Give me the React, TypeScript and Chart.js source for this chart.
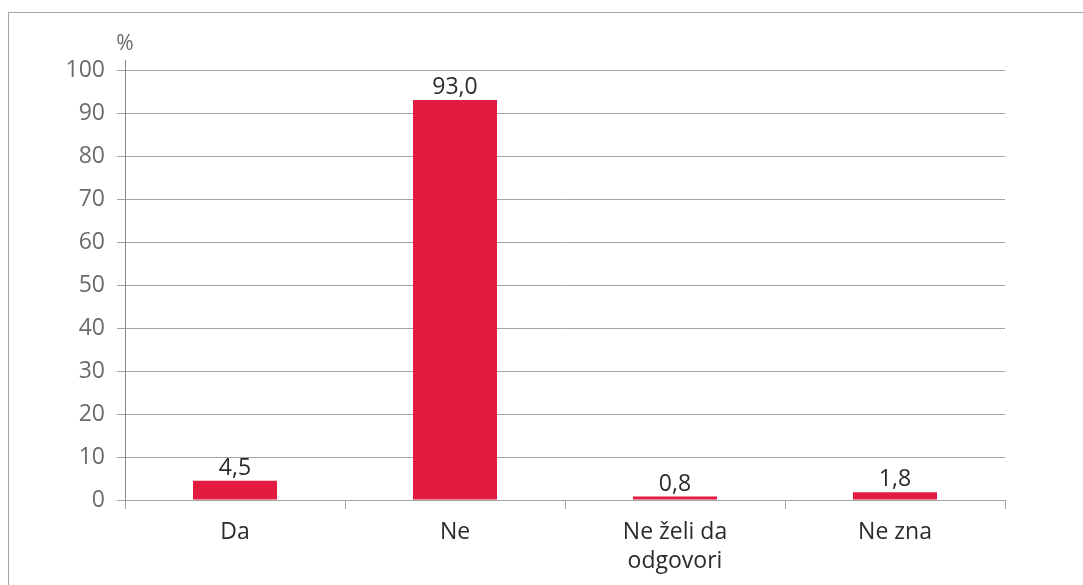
import React, { useEffect, useRef } from "react";
import { Chart, registerables } from "chart.js";

Chart.register(...registerables);

const categories: (string | string[])[] = ["Da", "Ne", ["Ne želi da", "odgovori"], "Ne zna"];
const values: number[] = [4.5, 93.0, 0.8, 1.8];
const yTicks: number[] = [0, 10, 20, 30, 40, 50, 60, 70, 80, 90, 100];
const unitLabel = "%";

const FONT = "'Open Sans', sans-serif";
const GRID = "#a3a3a3";

const fmt = (v: number) => v.toFixed(1).replace(".", ",");

const extrasPlugin = {
  id: "extras",
  afterDatasetsDraw(chart: any) {
    const ctx = chart.ctx;
    const meta = chart.getDatasetMeta(0);
    ctx.save();
    ctx.fillStyle = "#2b2b2b";
    ctx.font = `23px ${FONT}`;
    ctx.textAlign = "center";
    ctx.textBaseline = "alphabetic";
    meta.data.forEach((el: any, i: number) => {
      ctx.fillText(fmt(values[i]), el.x, el.y - 6);
    });
    const area = chart.chartArea;
    ctx.strokeStyle = "#8a8a8a";
    ctx.lineWidth = 1;
    ctx.beginPath();
    ctx.moveTo(area.left + 0.5, area.top - 10);
    ctx.lineTo(area.left + 0.5, area.top);
    ctx.stroke();
    ctx.fillStyle = "#6b6b6b";
    ctx.font = `21px ${FONT}`;
    ctx.textBaseline = "alphabetic";
    ctx.fillText(unitLabel, area.left, area.top - 20);
    ctx.restore();
  },
};

export default function App() {
  const ref = useRef<HTMLCanvasElement>(null);
  useEffect(() => {
    if (!ref.current) return;
    const chart = new Chart(ref.current, {
      type: "bar",
      data: {
        labels: categories,
        datasets: [
          {
            data: values,
            backgroundColor: "#E31B40",
            barPercentage: 0.382,
            categoryPercentage: 1,
          },
        ],
      },
      options: {
        animation: false,
        responsive: false,
        devicePixelRatio: 1,
        layout: { padding: { left: 0, top: 70, right: 78, bottom: 0 } },
        plugins: { legend: { display: false }, tooltip: { enabled: false } },
        scales: {
          x: {
            afterFit: (s: any) => {
              s.height = 85;
            },
            grid: {
              offset: true,
              drawOnChartArea: false,
              tickLength: 9,
              color: GRID,
            },
            border: { color: GRID },
            ticks: {
              color: "#2b2b2b",
              font: { family: FONT, size: 23, lineHeight: 1.25 },
              padding: 9,
              maxRotation: 0,
            },
          },
          y: {
            min: 0,
            max: 100,
            afterFit: (s: any) => {
              s.width = 125;
            },
            afterBuildTicks: (s: any) => {
              s.ticks = yTicks.map((v) => ({ value: v }));
            },
            grid: { color: GRID, tickLength: 8 },
            border: { color: "#8a8a8a" },
            ticks: {
              color: "#6b6b6b",
              font: { family: FONT, size: 23 },
              padding: 12,
            },
          },
        },
      },
      plugins: [extrasPlugin],
    });
    return () => chart.destroy();
  }, []);
  return (
    <div style={{ position: "fixed", inset: 0, overflow: "hidden", background: "#fff" }}>
      <div
        style={{
          position: "absolute",
          left: 8,
          top: 12,
          width: 1200,
          height: 700,
          border: "1px solid #a6a6a6",
        }}
      />
      <canvas
        ref={ref}
        width={1083}
        height={585}
        style={{ position: "absolute", left: 0, top: 0, width: 1083, height: 585 }}
      />
    </div>
  );
}
